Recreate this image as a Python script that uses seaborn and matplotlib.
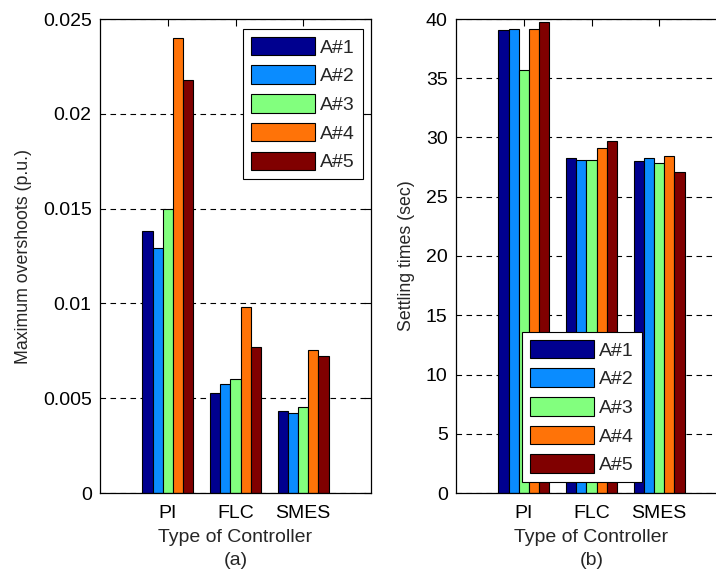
import numpy as np
import pandas as pd
import seaborn as sns
import matplotlib
matplotlib.use("Agg")
import matplotlib.pyplot as plt
from matplotlib.ticker import FixedLocator, FormatStrFormatter

controllers = ["PI", "FLC", "SMES"]
cases = ["A#1", "A#2", "A#3", "A#4", "A#5"]

# maximum overshoots (p.u.), one list per case: PI, FLC, SMES
overshoot_a1 = [0.0138, 0.0053, 0.0043]
overshoot_a2 = [0.0129, 0.00575, 0.0042]
overshoot_a3 = [0.0150, 0.0060, 0.00455]
overshoot_a4 = [0.0240, 0.0098, 0.00753]
overshoot_a5 = [0.0218, 0.0077, 0.00724]

# settling times (sec)
settling_a1 = [39.07, 28.27, 28.05]
settling_a2 = [39.13, 28.13, 28.24]
settling_a3 = [35.7, 28.13, 27.87]
settling_a4 = [39.13, 29.09, 28.46]
settling_a5 = [39.72, 29.68, 27.09]

colors = ["#00008F", "#0A8CFF", "#82FF7E", "#FF7308", "#800000"]


def long_table(series):
    rows = []
    for case, vals in zip(cases, series):
        for c, v in zip(controllers, vals):
            rows.append({"controller": c, "case": case, "value": v})
    return pd.DataFrame(rows)


df_over = long_table([overshoot_a1, overshoot_a2, overshoot_a3, overshoot_a4, overshoot_a5])
df_settle = long_table([settling_a1, settling_a2, settling_a3, settling_a4, settling_a5])

sns.set_style("white")
plt.rcParams["font.family"] = ["Liberation Sans", "DejaVu Sans"]
plt.rcParams["font.size"] = 14

fig = plt.figure(figsize=(7.16, 5.77), dpi=100)
ax1 = fig.add_axes([100 / 716, 84 / 577, 271 / 716, 474 / 577])
ax2 = fig.add_axes([456 / 716, 84 / 577, 271 / 716, 474 / 577])


def draw(ax, data, ylim, yticks, fmt, ylabel, sub, leg_anchor, leg_loc):
    sns.barplot(data=data, x="controller", y="value", hue="case",
                order=controllers, hue_order=cases, palette=colors,
                width=0.75, edgecolor="black", linewidth=0.8,
                saturation=1, ax=ax)
    ax.set_xlim(-1, 3)
    ax.set_ylim(*ylim)
    ax.yaxis.set_major_locator(FixedLocator(yticks))
    ax.yaxis.set_major_formatter(fmt)
    ax.set_axisbelow(True)
    ax.yaxis.grid(True, color="black", linestyle=(0, (5, 4)), linewidth=0.8)
    ax.xaxis.grid(False)
    for s in ax.spines.values():
        s.set_visible(True)
        s.set_color("black")
        s.set_linewidth(0.9)
    ax.tick_params(direction="in", length=5, width=0.8, top=True, right=True,
                   labelsize=14, colors="black", pad=6)
    ax.tick_params(axis="x", pad=9)
    ax.set_xlabel("Type of Controller\n" + sub, fontsize=14, labelpad=5,
                  linespacing=1.45)
    ax.set_ylabel(ylabel, fontsize=12.8, labelpad=8)
    handles, labels = ax.get_legend_handles_labels()
    leg = ax.legend(handles, labels, loc=leg_loc, bbox_to_anchor=leg_anchor,
                    borderaxespad=0, frameon=True, fancybox=False,
                    framealpha=1, edgecolor="black", fontsize=14,
                    handlelength=3.3, handleheight=1.1, handletextpad=0.25,
                    labelspacing=0.45, borderpad=0.4)
    leg.get_frame().set_linewidth(0.8)


draw(ax1, df_over, (0, 0.025), [0, 0.005, 0.01, 0.015, 0.02, 0.025],
     FormatStrFormatter("%g"), "Maximum overshoots (p.u.)", "(a)",
     (0.970, 0.979), "upper right")
draw(ax2, df_settle, (0, 40), [0, 5, 10, 15, 20, 25, 30, 35, 40],
     FormatStrFormatter("%g"), "Settling times (sec)", "(b)",
     (0.244, 0.023), "lower left")

fig.savefig("out.png", dpi=100)
